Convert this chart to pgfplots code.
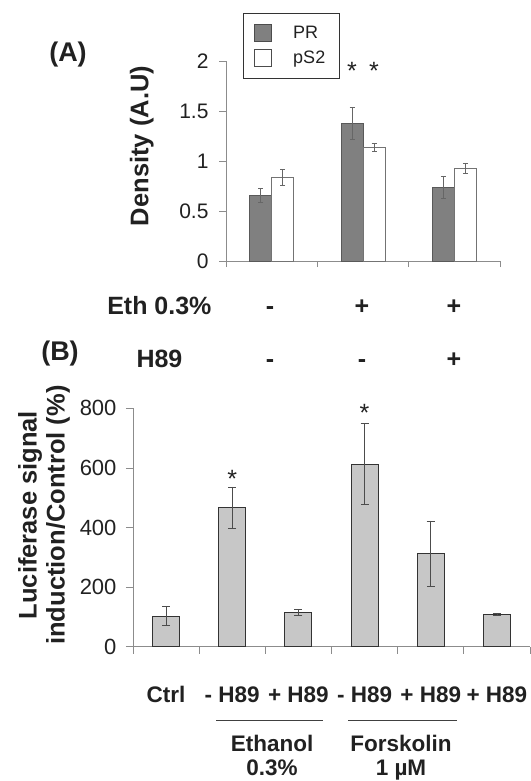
\documentclass[border=0pt]{standalone}
\usepackage{fontspec}
\setmainfont{Liberation Sans}
\usepackage{pgfplots}
\pgfplotsset{compat=1.18}
\definecolor{txt}{gray}{0.13}
\definecolor{axl}{gray}{0.55}
\begin{document}
\begin{tikzpicture}[x=1pt,y=1pt]
% ---------------- Panel A ----------------
\begin{axis}[
  at={(226pt,-261pt)}, anchor=south west,
  scale only axis, width=274pt, height=200pt,
  xmin=0, xmax=3, ymin=0, ymax=2,
  clip=false,
  axis x line*=bottom, axis y line*=left,
  axis line style={-, draw=axl, line width=0.8pt},
  tick align=outside,
  major tick length=7pt, minor tick length=6pt,
  ytick={0,0.5,1,1.5,2},
  ytick style={draw=axl, line width=0.8pt},
  xtick={0.5,1.5,2.5}, xticklabels={},
  major x tick style={draw=none},
  minor xtick={0,1,2,3},
  minor x tick style={draw=axl, line width=0.8pt},
  /pgf/number format/assume math mode=true,
  yticklabel style={font=\fontsize{21}{24}\selectfont, text=txt, xshift=-7pt},
  ylabel={\textbf{Density (A.U)}},
  every axis y label/.style={at={(axis description cs:-0.307,0.575)}, rotate=90, anchor=center,
     font=\fontsize{25.5}{28}\selectfont, text=txt},
  legend style={at={(0.062,1.24)}, anchor=north west, draw=black!80, line width=0.9pt,
     font=\fontsize{18}{20}\selectfont, text=txt,
     inner xsep=11pt, inner ysep=10pt, row sep=5pt, column sep=18pt,
     nodes={inner sep=3pt}},
  legend cell align=left,
]
\addlegendimage{legend image code/.code={\draw[fill=black!50, draw=black!70, line width=0.8pt] (0pt,-8.5pt) rectangle (17pt,8.5pt);}}
\addlegendentry{PR}
\addlegendimage{legend image code/.code={\draw[fill=white, draw=black!70, line width=0.8pt] (0pt,-8.5pt) rectangle (17pt,8.5pt);}}
\addlegendentry{pS2}
\addplot[ybar, bar width=22pt, fill=black!50, draw=black!65, line width=0.6pt, forget plot,
   error bars/.cd, y dir=both, y explicit,
   error bar style={black!60, line width=0.6pt},
   error mark options={rotate=90, mark size=2.5pt, black!60, line width=0.6pt}]
  coordinates {(0.3796,0.66) +- (0,0.07) (1.3796,1.38) +- (0,0.16) (2.3796,0.74) +- (0,0.11)};
\addplot[ybar, bar width=22pt, fill=white, draw=black!55, line width=0.6pt, forget plot,
   error bars/.cd, y dir=both, y explicit,
   error bar style={black!60, line width=0.6pt},
   error mark options={rotate=90, mark size=2.5pt, black!60, line width=0.6pt}]
  coordinates {(0.6204,0.84) +- (0,0.08) (1.6204,1.14) +- (0,0.04) (2.6204,0.93) +- (0,0.05)};
\node[anchor=north, inner sep=0pt, font=\fontsize{25}{25}\selectfont, text=txt] at (axis cs:1.3796,1.99) {*};
\node[anchor=north, inner sep=0pt, font=\fontsize{25}{25}\selectfont, text=txt] at (axis cs:1.6204,1.99) {*};
\end{axis}
% ---------------- Panel B ----------------
\begin{axis}[
  at={(133pt,-646.7pt)}, anchor=south west,
  scale only axis, width=397pt, height=238.4pt,
  xmin=0, xmax=6, ymin=0, ymax=800,
  clip=false,
  axis x line*=bottom, axis y line*=left,
  axis line style={-, draw=axl, line width=0.8pt},
  tick align=outside,
  major tick length=7pt, minor tick length=7pt,
  ytick={0,200,400,600,800},
  ytick style={draw=axl, line width=0.8pt},
  xtick={0.5,1.5,2.5,3.5,4.5,5.5},
  xticklabels={Ctrl,- H89,+ H89,- H89,+ H89,+ H89},
  major x tick style={draw=none},
  minor xtick={0,1,2,3,4,5,6},
  minor x tick style={draw=axl, line width=0.8pt},
  /pgf/number format/assume math mode=true,
  yticklabel style={font=\fontsize{22}{24}\selectfont, text=txt, xshift=-6pt},
  xticklabel style={font=\bfseries\fontsize{22.5}{24}\selectfont, text=txt, anchor=base, yshift=-49pt},
  ylabel={Luciferase signal\\induction/Control (\%)},
  every axis y label/.style={at={(axis description cs:-0.224,0.552)}, rotate=90, anchor=center,
     align=center, font=\bfseries\fontsize{25.5}{28}\selectfont, text=txt},
  ybar=0pt, bar width=27pt,
]
\addplot[fill=black!22, draw=black!80, line width=1pt,
   error bars/.cd, y dir=both, y explicit,
   error bar style={black!70, line width=0.7pt},
   error mark options={rotate=90, mark size=4pt, black!70, line width=0.7pt}]
  coordinates {(0.5,103) +- (0,32) (1.5,466) +- (0,70) (2.5,115) +- (0,10)
               (3.5,613) +- (0,135) (4.5,313) +- (0,109) (5.5,108) +- (0,3)};
\node[anchor=north, inner sep=0pt, font=\fontsize{25}{25}\selectfont, text=txt] at (axis cs:1.5,593) {*};
\node[anchor=north, inner sep=0pt, font=\fontsize{25}{25}\selectfont, text=txt] at (axis cs:3.5,814) {*};
\end{axis}
% ---------------- labels ----------------
\begin{scope}[every node/.style={text=txt, font=\bfseries\fontsize{25}{28}\selectfont}]
\node[font=\bfseries\fontsize{27}{30}\selectfont] at (68,-55) {(A)};
\node[font=\bfseries\fontsize{27}{30}\selectfont] at (60,-354) {(B)};
\node[anchor=base east] at (215,-314) {Eth 0.3\%};
\node[anchor=base] at (270,-314) {-};
\node[anchor=base] at (362,-314) {+};
\node[anchor=base] at (454,-314) {+};
\node[anchor=base west] at (133,-367) {H89};
\node[anchor=base] at (270,-367) {-};
\node[anchor=base] at (362,-367) {-};
\node[anchor=base] at (454,-367) {+};
\end{scope}
\draw[black!75, line width=1pt] (216,-720) -- (323,-720);
\draw[black!75, line width=1pt] (348,-720) -- (457,-720);
\begin{scope}[every node/.style={text=txt, font=\bfseries\fontsize{22.5}{26}\selectfont, anchor=base}]
\node at (272,-751) {Ethanol};
\node at (272,-775) {0.3\%};
\node at (401,-751) {Forskolin};
\node at (401,-775) {1 µM};
\end{scope}
\pgfresetboundingbox
\path[use as bounding box] (0,0) rectangle (530,-781);
\end{tikzpicture}
\end{document}
